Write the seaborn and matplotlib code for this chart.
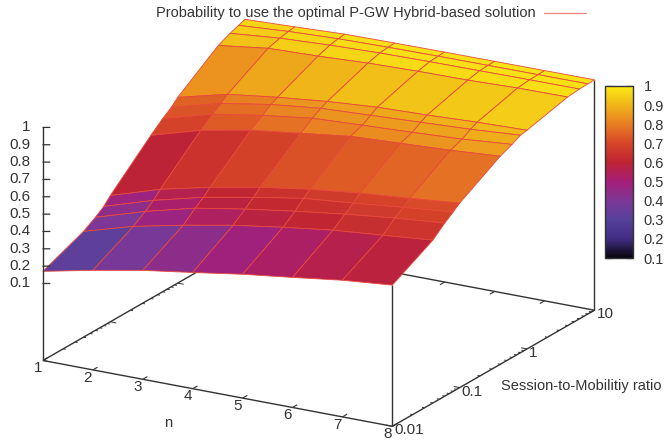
import numpy as np
import matplotlib
matplotlib.use('Agg')
from matplotlib import pyplot as plt
from mpl_toolkits.mplot3d import proj3d
import seaborn as sns

n_values = [1, 2, 3, 4, 5, 6, 7, 8]
ratio_values = [0.01, 0.04, 0.06, 0.08, 0.1, 0.4, 0.6, 0.8, 1, 4, 6, 8, 10]

# one row of probabilities per session-to-mobility ratio
p_001 = [.170, .230, .284, .326, .370, .406, .444, .470]
p_004 = [.266, .349, .410, .464, .507, .544, .569, .595]
p_006 = [.308, .396, .469, .518, .560, .597, .629, .654]
p_008 = [.343, .432, .504, .558, .606, .633, .663, .690]
p_01 = [.384, .474, .540, .594, .637, .669, .693, .720]
p_04 = [.597, .680, .735, .771, .808, .822, .836, .856]
p_06 = [.655, .733, .781, .819, .833, .846, .861, .885]
p_08 = [.690, .768, .816, .848, .862, .876, .890, .910]
p_1 = [.727, .799, .836, .866, .887, .896, .909, .917]
p_4 = [.892, .930, .939, .953, .960, .963, .972, .974]
p_6 = [.923, .949, .963, .972, .976, .978, .980, .981]
p_8 = [.941, .960, .972, .977, .980, .981, .982, .983]
p_10 = [.954, .965, .977, .980, .982, .983, .984, .985]

z_ticks = [0.1, 0.2, 0.3, 0.4, 0.5, 0.6, 0.7, 0.8, 0.9, 1]
z_tick_labels = ['0.1', '0.2', '0.3', '0.4', '0.5', '0.6', '0.7', '0.8', '0.9', '1']
ratio_ticks = [0.01, 0.1, 1, 10]
ratio_tick_labels = ['0.01', '0.1', '1', '10']

box_colours = ['#08040c', '#412d82', '#55419b', '#7d3796', '#a51e78',
               '#be2332', '#d74628', '#e87d23', '#f0b419', '#fbeb14']

sns.set_theme(style='white')
plt.rcParams['font.family'] = ['Liberation Sans', 'DejaVu Sans']
ink = '#333333'

Z = np.array([p_001, p_004, p_006, p_008, p_01, p_04, p_06, p_08, p_1, p_4, p_6, p_8, p_10])
log_ratio = np.log10(ratio_values)
X, Y = np.meshgrid(n_values, log_ratio)

cmap = sns.blend_palette(box_colours, as_cmap=True)
norm = plt.Normalize(0.1, 1)

# every cell takes the mean of its corners, low cells print a bit warmer than the box
cell = Z.copy()
cell[:-1, :-1] = (Z[:-1, :-1] + Z[1:, :-1] + Z[:-1, 1:] + Z[1:, 1:]) / 4
cell = cell + 0.07 * np.clip((0.75 - cell) / 0.25, 0, 1)
colours = cmap(norm(cell))

fig = plt.figure(figsize=(6.65, 4.4), dpi=100)
size = 605
ax = fig.add_axes([(310.5 - size / 2) / 665, (213 - size / 2) / 440, size / 665, size / 440],
                  projection='3d', computed_zorder=False)
ax.set_proj_type('ortho')
ax.view_init(elev=19.2, azim=-60.2)
z_floor = -0.344
ax.set_xlim(1, 8, view_margin=0)
ax.set_ylim(-2, 1, view_margin=0)
ax.set_zlim(z_floor, 1, view_margin=0)
ax.set_box_aspect((403, 407, 247))
ax.set_axis_off()

x0, x1, y0, y1 = 1, 8, -2, 1


def line(xs, ys, zs, lw=1.0, zorder=1):
    ax.plot(xs, ys, zs, color=ink, lw=lw, zorder=zorder, solid_capstyle='butt')


def label(x, y, z, text, dx=0, dy=0, ha='center', size=11):
    px, py, _ = proj3d.proj_transform(x, y, z, ax.get_proj())
    ax.annotate(text, xy=(px, py), xytext=(dx, dy), textcoords='offset points',
                ha=ha, va='center', fontsize=size, color=ink, annotation_clip=False)


# floor of the box
line([x0, x1, x1, x0, x0], [y0, y0, y1, y1, y0], [z_floor] * 5)
# upright edges
line([x0, x0], [y0, y0], [z_floor, 1], zorder=3)
line([x1, x1], [y0, y0], [z_floor, Z[0, -1]], zorder=1)
line([x1, x1], [y1, y1], [z_floor, Z[-1, -1]], zorder=1)

for n in n_values:
    line([n, n], [y0, y0 + 0.07], [z_floor] * 2, lw=0.8)
    line([n, n], [y1, y1 - 0.07], [z_floor] * 2, lw=0.8)
    label(n, y0, z_floor, str(n), dx=-3.6, dy=-5.5)

for decade in [-2, -1, 0]:
    for m in range(1, 10):
        t = decade + np.log10(m)
        dx = 0.12 if m == 1 else 0.05
        line([x0, x0 + dx], [t, t], [z_floor] * 2, lw=0.7)
        line([x1, x1 - dx], [t, t], [z_floor] * 2, lw=0.7)

for tick, text in zip(ratio_ticks, ratio_tick_labels):
    label(x1, np.log10(tick), z_floor, text, dx=1.5, dy=-3, ha='left')

for tick, text in zip(z_ticks, z_tick_labels):
    px, py, _ = proj3d.proj_transform(x0, y0, tick, ax.get_proj())
    ax.annotate('', xy=(px, py), xytext=(5, 0), textcoords='offset points',
                arrowprops=dict(arrowstyle='-', color=ink, lw=0.9, shrinkA=0, shrinkB=0),
                annotation_clip=False, zorder=3)
    label(x0, y0, tick, text, dx=-9, ha='right')

surf = ax.plot_surface(X, Y, Z, facecolors=colours, rstride=1, cstride=1, shade=False,
                       antialiased=True, zorder=2)
surf.set_edgecolor('#e8483a')
surf.set_linewidth(0.6)

fig.text(168 / 665, 1 - 423 / 440, 'n', fontsize=10.5, color=ink, ha='center', va='center')
fig.text(501 / 665, 1 - 386 / 440, 'Session-to-Mobilitiy ratio', fontsize=10.5, color=ink, ha='left', va='center')
fig.text(536 / 665, 1 - 13 / 440, 'Probability to use the optimal P-GW Hybrid-based solution',
         fontsize=10.55, color=ink, ha='right', va='center')
fig.add_artist(plt.Line2D([544 / 665, 586 / 665], [1 - 12.6 / 440] * 2, color='#ee8080', lw=0.9))

cax = fig.add_axes([605 / 665, 1 - 258 / 440, 28 / 665, 172 / 440])
cb = fig.colorbar(plt.cm.ScalarMappable(norm=norm, cmap=cmap), cax=cax)
cb.set_ticks(z_ticks, labels=z_tick_labels)
cb.ax.tick_params(direction='in', left=True, right=True, length=5, width=0.9, color=ink,
                  labelsize=10.5, labelcolor=ink, pad=7.5)
cb.minorticks_off()
cb.outline.set_edgecolor(ink)
cb.outline.set_linewidth(1.0)

fig.savefig('out.png', dpi=100)
